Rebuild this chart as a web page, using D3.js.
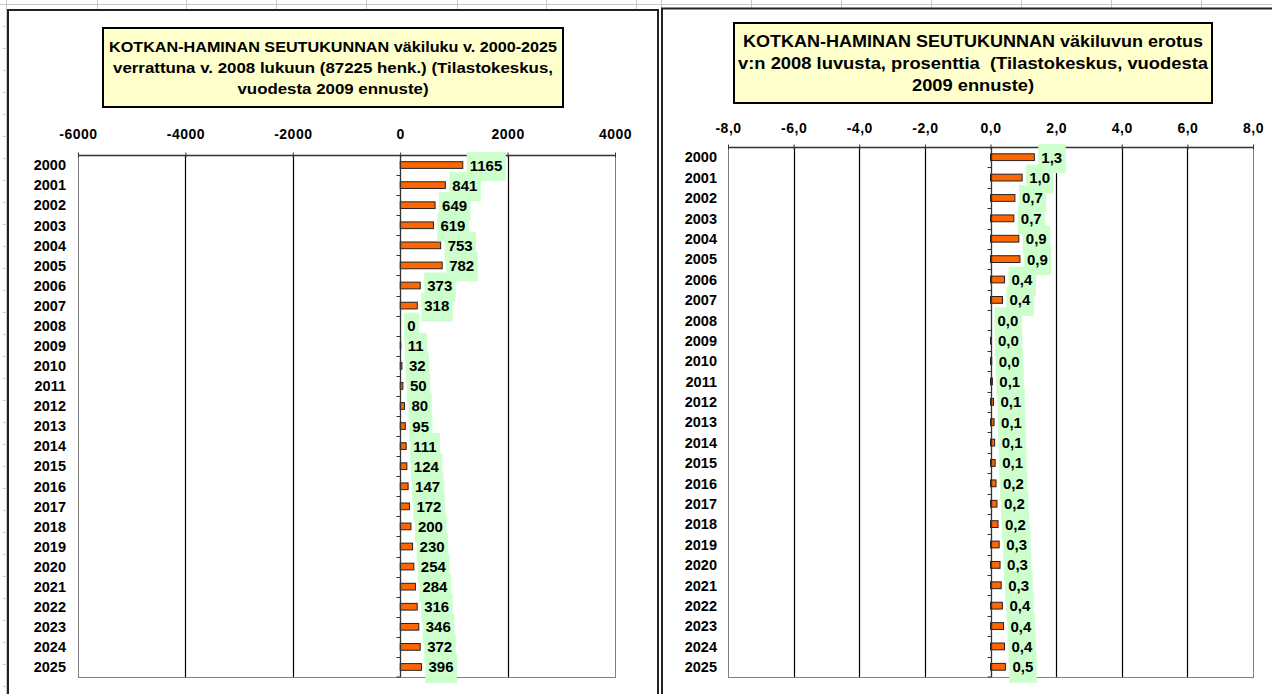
<!DOCTYPE html>
<html><head><meta charset="utf-8">
<script src="https://cdn.jsdelivr.net/npm/d3@7"></script>
<style>
html,body{margin:0;padding:0;background:#fff;}
svg{display:block;font-family:"Liberation Sans",Arial,sans-serif;}
.ttl{white-space:pre;}
</style></head>
<body>
<svg id="c" width="1272" height="694"></svg>
<script>
// ---------- DATA ----------
const years = ["2000","2001","2002","2003","2004","2005","2006","2007","2008","2009","2010","2011","2012",
  "2013","2014","2015","2016","2017","2018","2019","2020","2021","2022","2023","2024","2025"];
const diffPersons = [1165,841,649,619,753,782,373,318,0,11,32,50,80,95,111,124,147,172,200,230,254,284,316,346,372,396];
const diffPercent = [1.336,0.964,0.744,0.710,0.863,0.897,0.428,0.365,0.000,0.013,0.037,0.057,0.092,0.109,0.127,
  0.142,0.169,0.197,0.229,0.264,0.291,0.326,0.362,0.397,0.426,0.454];
const ticksPersons = [-6000,-4000,-2000,0,2000,4000];
const ticksPercent = [-8,-6,-4,-2,0,2,4,6,8];
const titlePersons = ["KOTKAN-HAMINAN SEUTUKUNNAN väkiluku v. 2000-2025",
  "verrattuna v. 2008 lukuun (87225 henk.) (Tilastokeskus,",
  "vuodesta 2009 ennuste)"];
const titlePercent = ["KOTKAN-HAMINAN SEUTUKUNNAN väkiluvun erotus",
  "v:n 2008 luvusta, prosenttia  (Tilastokeskus, vuodesta",
  "2009 ennuste)"];

// ---------- DRAW ----------
const svg = d3.select("#c");

// spreadsheet background
const bg = svg.append("g");
bg.append("line").attr("x1",0).attr("x2",1272).attr("y1",4.5).attr("y2",4.5).attr("stroke","#c8c8c8");
bg.append("line").attr("x1",6.5).attr("x2",6.5).attr("y1",0).attr("y2",694).attr("stroke","#c8c8c8");
[97,186,276,366,457,546,636,661,751,841,931,1021,1111,1201].forEach(x=>{
  bg.append("line").attr("x1",x+0.5).attr("x2",x+0.5).attr("y1",0).attr("y2",9).attr("stroke","#c8c8c8");
});
for(let y=26;y<694;y+=22){
  bg.append("line").attr("x1",3).attr("x2",7).attr("y1",y+0.5).attr("y2",y+0.5).attr("stroke","#d0d0d0");
}

// chart area borders
svg.append("rect").attr("x",8).attr("y",10).attr("width",650).attr("height",700)
  .attr("fill","#fff").attr("stroke","#222").attr("stroke-width",2);
svg.append("rect").attr("x",662).attr("y",8.5).attr("width",640).attr("height",700)
  .attr("fill","#fff").attr("stroke","#222").attr("stroke-width",2);

function chart(cfg){
  const g = svg.append("g");
  // title box
  g.append("rect").attr("x",cfg.tb[0]).attr("y",cfg.tb[1]).attr("width",cfg.tb[2]).attr("height",cfg.tb[3])
    .attr("fill","#FFFFCC").attr("stroke","#000").attr("stroke-width",2);
  const cx = cfg.tb[0]+cfg.tb[2]/2;
  cfg.title.forEach((t,i)=>{
    g.append("text").attr("class","ttl").attr("xml:space","preserve").attr("x",cx).attr("y",cfg.tBase[i]).attr("text-anchor","middle")
      .attr("font-size",cfg.tSize).attr("font-weight","bold").attr("fill","#000")
      .attr("textLength",cfg.tLen[i]).attr("lengthAdjust","spacingAndGlyphs").text(t);
  });

  const x = d3.scaleLinear().domain(cfg.domain).range([cfg.left,cfg.right]);
  const y = d3.scaleBand().domain(years).range([cfg.top,cfg.bottom]).paddingInner(0).paddingOuter(0);
  const x0 = Math.round(x(0))+0.5;

  // plot border
  g.append("rect").attr("x",cfg.left+0.5).attr("y",cfg.top+0.5)
    .attr("width",cfg.right-cfg.left).attr("height",cfg.bottom-cfg.top)
    .attr("fill","none").attr("stroke","#808080");
  // gridlines
  g.selectAll(".grid").data(cfg.ticks.filter(d=>d!==0 && d!==cfg.domain[0] && d!==cfg.domain[1]))
    .join("line").attr("x1",d=>Math.round(x(d))+0.5).attr("x2",d=>Math.round(x(d))+0.5)
    .attr("y1",cfg.top).attr("y2",cfg.bottom).attr("stroke","#000").attr("stroke-width",1.2);

  // top value axis
  const ax = g.append("g").attr("transform",`translate(0,${cfg.top+0.5})`)
    .call(d3.axisTop(x).tickValues(cfg.ticks).tickSize(3).tickPadding(cfg.tickPad).tickFormat(cfg.fmt));
  ax.select(".domain").attr("stroke","#333").attr("stroke-width",1.5).attr("d",`M${cfg.left},0H${cfg.right}`);
  ax.selectAll(".tick line").attr("stroke","#333").attr("y2",-3).attr("y1",2);
  ax.selectAll(".tick text").attr("font-size",14).attr("font-weight","bold").attr("fill","#000")
    .attr("letter-spacing","0.5px").attr("font-family","'Liberation Sans',Arial,sans-serif");

  // year labels
  const yl = g.append("g").attr("transform",`translate(${cfg.yLabX},0)`)
    .call(d3.axisLeft(y).tickSize(0).tickPadding(0));
  yl.select(".domain").remove();
  yl.selectAll(".tick text").attr("font-size",14.5).attr("font-weight","bold").attr("fill","#000")
    .attr("font-family","'Liberation Sans',Arial,sans-serif").attr("dy","0.36em");

  // bars
  const bh = y.bandwidth()/3;
  g.selectAll(".bar").data(cfg.values).join("rect")
    .attr("x",(d)=>x(Math.min(0,d)))
    .attr("y",(d,i)=>y(years[i])+y.bandwidth()/2-bh/2)
    .attr("width",d=>Math.abs(x(d)-x(0)))
    .attr("height",bh)
    .attr("fill","#FF6600").attr("stroke","#222").attr("stroke-width",d=>d===0?0:1);

  // category axis at zero
  g.append("line").attr("x1",x0).attr("x2",x0).attr("y1",cfg.top).attr("y2",cfg.bottom)
    .attr("stroke","#333").attr("stroke-width",1.3);
  g.selectAll(".ctick").data(years.slice(1).concat(["__end"])).join("line")
    .attr("x1",x0-4).attr("x2",x0)
    .attr("y1",d=>d==="__end"?cfg.bottom:Math.round(y(d))+0.5)
    .attr("y2",d=>d==="__end"?cfg.bottom:Math.round(y(d))+0.5)
    .attr("stroke","#333");

  // value labels with green background
  const lg = g.append("g");
  cfg.values.forEach((v,i)=>{
    const cy = y(years[i])+y.bandwidth()/2;
    const bx = x(Math.max(0,v))+4;
    const t = lg.append("text").attr("x",bx+3).attr("y",cy+5.5)
      .attr("font-size",15).attr("font-weight","bold").attr("fill","#000")
      .text(cfg.lab(v,i));
    const w = t.node().getComputedTextLength();
    lg.insert("rect","text").attr("x",bx).attr("y",cy-13).attr("width",w+6.5).attr("height",29)
      .attr("fill","#CCFFCC");
  });
}

chart({
  tb:[103,28,460,79], tSize:15.5, tBase:[52,73,94], tLen:[448,440,191], title:titlePersons,
  domain:[-6000,4000], left:78, right:615, top:155, bottom:677,
  ticks:ticksPersons, tickPad:14, fmt:d=>String(d),
  yLabX:66, values:diffPersons, lab:(v)=>String(v)
});
chart({
  tb:[734,23,478,80], tSize:17, tBase:[47,69,91], tLen:[460,470,122], title:titlePercent,
  domain:[-8,8], left:728, right:1253, top:147, bottom:677,
  ticks:ticksPercent, tickPad:12, fmt:d=>d.toFixed(1).replace(".",","),
  yLabX:717, values:diffPercent, lab:(v)=>v.toFixed(1).replace(".",",")
});
</script>
</body></html>
